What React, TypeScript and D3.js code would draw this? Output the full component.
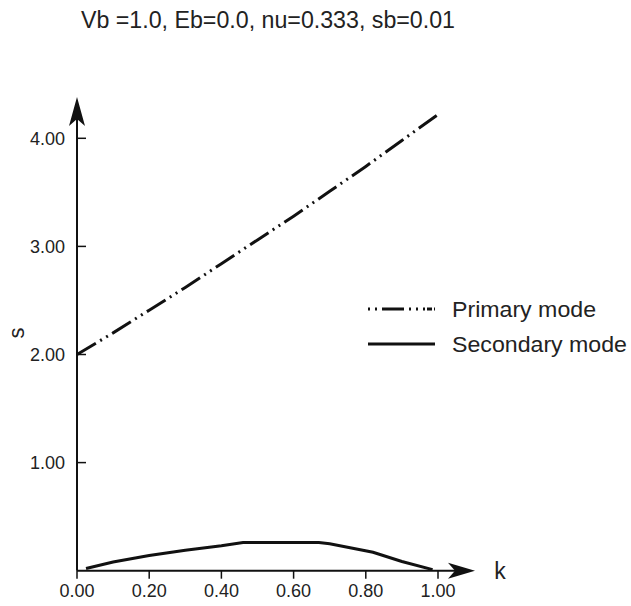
import React from "react";
import * as d3 from "d3";

const title = "Vb =1.0, Eb=0.0, nu=0.333, sb=0.01";
const xTicks = [0, 0.2, 0.4, 0.6, 0.8, 1.0];
const yTicks = [1, 2, 3, 4];

const primaryK = [0.0, 0.1, 0.2, 0.3, 0.4, 0.5, 0.6, 0.7, 0.8, 0.9, 1.0];
const primaryS = [2.0, 2.2, 2.41, 2.62, 2.84, 3.06, 3.28, 3.51, 3.74, 3.98, 4.22];

const secondaryK = [0.025, 0.1, 0.2, 0.3, 0.4, 0.46, 0.5, 0.6, 0.67, 0.7, 0.76, 0.82, 0.9, 0.985];
const secondaryS = [0.02, 0.08, 0.14, 0.19, 0.23, 0.26, 0.26, 0.26, 0.26, 0.25, 0.21, 0.17, 0.085, 0.01];

const legendLabels = ["Primary mode", "Secondary mode"];

export default function App() {
  const W = 631, H = 606;
  const x = d3.scaleLinear().domain([0, 1]).range([77, 438]);
  const y = d3.scaleLinear().domain([0, 4]).range([570.7, 138.3]);
  const line = d3.line<[number, number]>().x(d => x(d[0])).y(d => y(d[1]));
  const primary = line(primaryK.map((k, i) => [k, primaryS[i]] as [number, number]));
  const secondary = line(secondaryK.map((k, i) => [k, secondaryS[i]] as [number, number]));
  const x0 = x(0), y0 = y(0);
  const font = "Arial, 'Liberation Sans', sans-serif";
  const dash = "22,5,2,5,2,5";
  return (
    <svg width={W} height={H} style={{ position: "absolute", left: 0, top: 0, background: "#fff" }}>
      <rect width={W} height={H} fill="#fff" />
      <text x={81} y={27.5} fontFamily={font} fontSize={23} fill="#222" textLength={374} lengthAdjust="spacingAndGlyphs">{title}</text>
      {/* axes */}
      <line x1={x0} y1={y0} x2={x0} y2={110} stroke="#111" strokeWidth={2} />
      <line x1={x0} y1={y0} x2={462} y2={y0} stroke="#111" strokeWidth={2} />
      <path d={`M${x0},97 L${x0 + 8},126 L${x0},119 L${x0 - 8},126 Z`} fill="#111" />
      <path d={`M475,${y0} L448,${y0 - 8} L455,${y0} L448,${y0 + 8} Z`} fill="#111" />
      {xTicks.map(t => (
        <g key={"x" + t}>
          <line x1={x(t)} x2={x(t)} y1={y0} y2={y0 + 8} stroke="#111" strokeWidth={1.5} />
          <text x={x(t)} y={y0 + 26} textAnchor="middle" fontFamily={font} fontSize={18} fill="#222">{t.toFixed(2)}</text>
        </g>
      ))}
      {yTicks.map(t => (
        <g key={"y" + t}>
          <line x1={x0} x2={x0 + 9} y1={y(t)} y2={y(t)} stroke="#111" strokeWidth={1.5} />
          <text x={65} y={y(t) + 6.5} textAnchor="end" fontFamily={font} fontSize={18} fill="#222">{t.toFixed(2)}</text>
        </g>
      ))}
      <text x={500} y={y0 + 8} textAnchor="middle" fontFamily={font} fontSize={23} fill="#222">k</text>
      <text transform={`translate(24,333) rotate(-90)`} textAnchor="middle" fontFamily={font} fontSize={22} fill="#222">s</text>
      {/* series */}
      <path d={primary || ""} fill="none" stroke="#111" strokeWidth={3} strokeDasharray={dash} />
      <path d={secondary || ""} fill="none" stroke="#111" strokeWidth={3} />
      {/* legend */}
      <line x1={368} x2={435} y1={309} y2={309} stroke="#111" strokeWidth={3} strokeDasharray="2,5,2,5,22,5,2,5,2,5,2" />
      <text x={452} y={317} fontFamily={font} fontSize={22} fill="#222" textLength={144} lengthAdjust="spacingAndGlyphs">{legendLabels[0]}</text>
      <line x1={368} x2={435} y1={344} y2={344} stroke="#111" strokeWidth={3} />
      <text x={452} y={352} fontFamily={font} fontSize={22} fill="#222" textLength={175} lengthAdjust="spacingAndGlyphs">{legendLabels[1]}</text>
    </svg>
  );
}
